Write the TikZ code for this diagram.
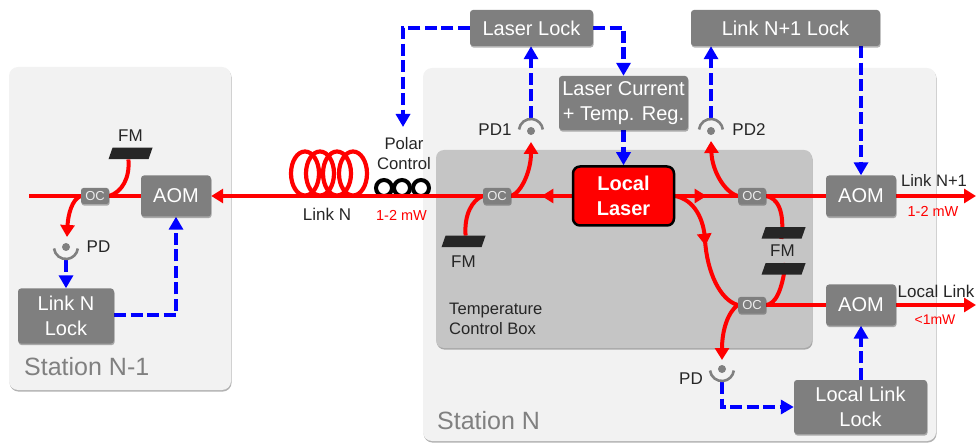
\documentclass[tikz,border=0pt]{standalone}
\usepackage{fontspec}
\setmainfont{Liberation Sans}
\usetikzlibrary{arrows.meta,shadows,decorations.markings,calc}
\definecolor{boxgray}{HTML}{7F7F7F}
\definecolor{panelgray}{HTML}{F2F2F2}
\definecolor{tempgray}{HTML}{C5C5C5}
\definecolor{fmblack}{HTML}{262626}
\definecolor{labelgray}{HTML}{808080}
\pgfdeclarelayer{bg}
\pgfdeclarelayer{mid}
\pgfsetlayers{bg,mid,main}
\newcommand{\fs}[2]{\fontsize{#1}{#2}\selectfont}
\tikzset{
  softshadow/.style={drop shadow={shadow xshift=0.6pt,shadow yshift=-1.6pt,opacity=.3,fill=black}},
  panel/.style={fill=panelgray,rounded corners=9pt,softshadow},
  tempbox/.style={fill=tempgray,rounded corners=8pt,softshadow},
  graybox/.style={fill=boxgray,rounded corners=3pt,text=white,align=center,inner sep=0pt,softshadow,font=\fs{20}{25}},
  ocbox/.style={fill=boxgray,rounded corners=2.5pt,text=white!85!boxgray,inner sep=0pt,minimum width=28pt,minimum height=16pt,font=\fs{13}{14},softshadow},
  laserbox/.style={fill=red,draw=black,line width=2.5pt,rounded corners=7pt,text=white,align=center,inner sep=0pt,font=\bfseries\fs{20}{25},minimum width=101pt,minimum height=59pt},
  fmbar/.style={fill=fmblack,xslant=0.35,transform shape,minimum width=40pt,minimum height=11.5pt,inner sep=0pt},
  pddot/.style={circle,fill=labelgray,minimum size=8pt,inner sep=0pt},
  pdarc/.style={draw=labelgray,line width=2.6pt},
  lbl/.style={text=black!85,align=center,inner sep=0pt,font=\fs{17}{20.5}},
  pwr/.style={text=red,inner sep=0pt,font=\fs{14.5}{16}},
  redline/.style={draw=red,line width=4pt},
  redarrow/.style={redline,-{Triangle[length=12pt,width=14pt]}},
  midarrow/.style={redline,postaction={decorate},decoration={markings,mark=at position #1 with {\arrow[red]{Triangle[length=12pt,width=14pt]}}}},
  blueline/.style={draw=blue,line width=4.6pt,dash pattern=on 12pt off 4.5pt},
  bluearrow/.style={blueline,-{Triangle[length=13pt,width=14pt]}},
}
\begin{document}
\begin{tikzpicture}[x=1pt,y=-1pt]
\useasboundingbox (0,0) rectangle (976,443);

% panels
\begin{pgfonlayer}{bg}
  \path[panel] (9,67) rectangle (231,390);
  \path[panel] (423,68) rectangle (936,441);
  \path[tempbox] (436,150) rectangle (812,348);
\end{pgfonlayer}

% boxes
\node[ocbox] (ocA) at (95,196) {OC};
\node[graybox,minimum width=70pt,minimum height=41pt] (aomA) at (176,196) {AOM};
\node[graybox,minimum width=96pt,minimum height=55pt] (lockN) at (66,316) {Link N\\Lock};
\node[fmbar] (fmA) at (130.5,153.5) {};
\node[pddot] (pdA) at (66,247) {};

\node[graybox,minimum width=123pt,minimum height=36pt] (laserLock) at (531.5,28) {Laser Lock};
\node[graybox,minimum width=189pt,minimum height=36pt] (nextLock) at (785.5,28) {Link N+1 Lock};
\node[graybox,minimum width=129pt,minimum height=54pt] (current) at (623.5,103) {Laser Current\\+ Temp. Reg.};
\node[laserbox] (laser) at (623.5,196) {Local\\Laser};
\node[ocbox] (ocB) at (497,196) {OC};
\node[ocbox] (ocC) at (752,196) {OC};
\node[ocbox] (ocD) at (752,305) {OC};
\node[graybox,minimum width=70pt,minimum height=41pt] (aomB) at (861,196) {AOM};
\node[graybox,minimum width=70pt,minimum height=41pt] (aomC) at (861,305) {AOM};
\node[graybox,minimum width=133pt,minimum height=54pt] (localLock) at (860.5,407) {Local Link\\Lock};
\node[fmbar] (fmB) at (463.5,241.5) {};
\node[fmbar] (fmC) at (783.5,233) {};
\node[fmbar] (fmD) at (783.5,269) {};
\node[pddot] (pdB) at (531,131) {};
\node[pddot] (pdC) at (711,131) {};
\node[pddot] (pdD) at (722,369) {};

% PD arcs
\draw[pdarc] ($(pdA)+(-12,1.5)$) arc[start angle=187,end angle=353,radius=12pt];
\draw[pdarc] ($(pdB)+(-12,-1.5)$) arc[start angle=173,end angle=7,radius=12pt];
\draw[pdarc] ($(pdC)+(-12,-1.5)$) arc[start angle=173,end angle=7,radius=12pt];
\draw[pdarc] ($(pdD)+(-12,1.5)$) arc[start angle=187,end angle=353,radius=12pt];

% labels
\node[lbl] (fmAl) at (130.5,135.5) {FM};
\node[lbl] (pdAl) at (98.5,246.5) {PD};
\node[lbl] (linkN) at (327,214.5) {Link N};
\node[lbl,font=\fs{16.7}{20.5}] (polar) at (404,153.5) {Polar\\Control};
\node[pwr] (pwrA) at (401.5,215) {1-2 mW};
\node[lbl] (pd1l) at (495,129.5) {PD1};
\node[lbl] (pd2l) at (749,129.5) {PD2};
\node[lbl] (fmBl) at (463.5,262) {FM};
\node[lbl] (fmCl) at (782.5,251) {FM};
\node[lbl] (pdDl) at (691,378.5) {PD};
\node[lbl,align=left,anchor=west,font=\fs{16.6}{20.5}] (templ) at (449,319) {Temperature\\Control Box};
\node[lbl,font=\fs{16.6}{20}] (nextl) at (934,180) {Link N+1};
\node[lbl] (locall) at (936,291) {Local Link};
\node[pwr] (pwrB) at (933,211) {1-2 mW};
\node[pwr,font=\fs{14}{16}] (pwrC) at (935,319.5) {<1mW};
\node[text=labelgray,inner sep=0pt,anchor=west,font=\fs{25}{28}] (stA) at (24,367) {Station N-1};
\node[text=labelgray,inner sep=0pt,anchor=west,font=\fs{25}{28}] (stB) at (437,421) {Station N};

% free ends
\coordinate (inA) at (29,196);
\coordinate (outB) at (976,196);
\coordinate (outC) at (976,305);
\coordinate (polarIn) at (403,127);

% coil and polarisation controller
\begin{pgfonlayer}{mid}
  \foreach \cx in {305,320,337,353}{
    \draw[red,line width=4.2pt] (\cx,173.5) ellipse[x radius=14pt,y radius=22pt];
  }
  \foreach \cx in {384,402,421}{
    \draw[black,line width=4pt,fill=white] (\cx,188) circle[radius=8pt];
  }
  % red fibres
  \draw[redline] (inA) -- (aomA.west);
  \draw[redline] (ocA.east) .. controls (122,192) and (130,178) .. (fmA.south);
  \draw[redarrow] (ocA.west) .. controls (72,199) and (68,215) .. (67,237);

  \draw[redarrow] (ocB.west) -- (aomA.east);
  \draw[midarrow=0.5] (laser.west) -- (ocB.east);
  \draw[redarrow] (ocB.east) .. controls (522,192) and (531,170) .. (531,142);
  \draw[redline] (ocB.west) .. controls (472,200) and (464,215) .. (fmB.north);

  \draw[midarrow=0.5] (laser.east) -- (ocC.west);
  \draw[redarrow] (ocC.west) .. controls (724,192) and (712,170) .. (711,141);
  \draw[redline] (ocC.east) -- (aomB.west);
  \draw[redline] (ocC.east) .. controls (777,198) and (785,210) .. (fmC.south);
  \draw[midarrow=0.47] (laser.east) .. controls (695,200) and (704,220) .. (705,240)
     .. controls (707,272) and (720,300) .. (ocD.west);
  \draw[redline] (ocD.east) .. controls (775,304) and (782,292) .. (fmD.north);
  \draw[redline] (ocD.east) -- (aomC.west);
  \draw[redarrow] (ocD.west) .. controls (728,312) and (722,330) .. (722,360);
  \draw[redarrow] (aomB.east) -- (outB);
  \draw[redarrow] (aomC.east) -- (outC);

  % blue control lines
  \draw[bluearrow] (laserLock.west) -- (403,28) -- (polarIn);
  \draw[bluearrow] (laserLock.east) -- (623.5,28) -- (current.north);
  \draw[bluearrow] (current.south) -- (laser.north);
  \draw[bluearrow] ($(pdB)+(0,-13)$) -- (pdB |- laserLock.south);
  \draw[bluearrow] ($(pdC)+(0,-13)$) -- (pdC |- nextLock.south);
  \draw[bluearrow] (nextLock.south -| aomB.north) -- (aomB.north);
  \draw[bluearrow] (localLock.north -| aomC.south) -- (aomC.south);
  \draw[bluearrow] ($(pdD)+(0,13)$) -- (722,407) -- (localLock.west);
  \draw[bluearrow] ($(pdA)+(0,13)$) -- (pdA |- lockN.north);
  \draw[bluearrow] (lockN.east |- 0,315) -- (176,315) -- (aomA.south);
\end{pgfonlayer}
\end{tikzpicture}
\end{document}
